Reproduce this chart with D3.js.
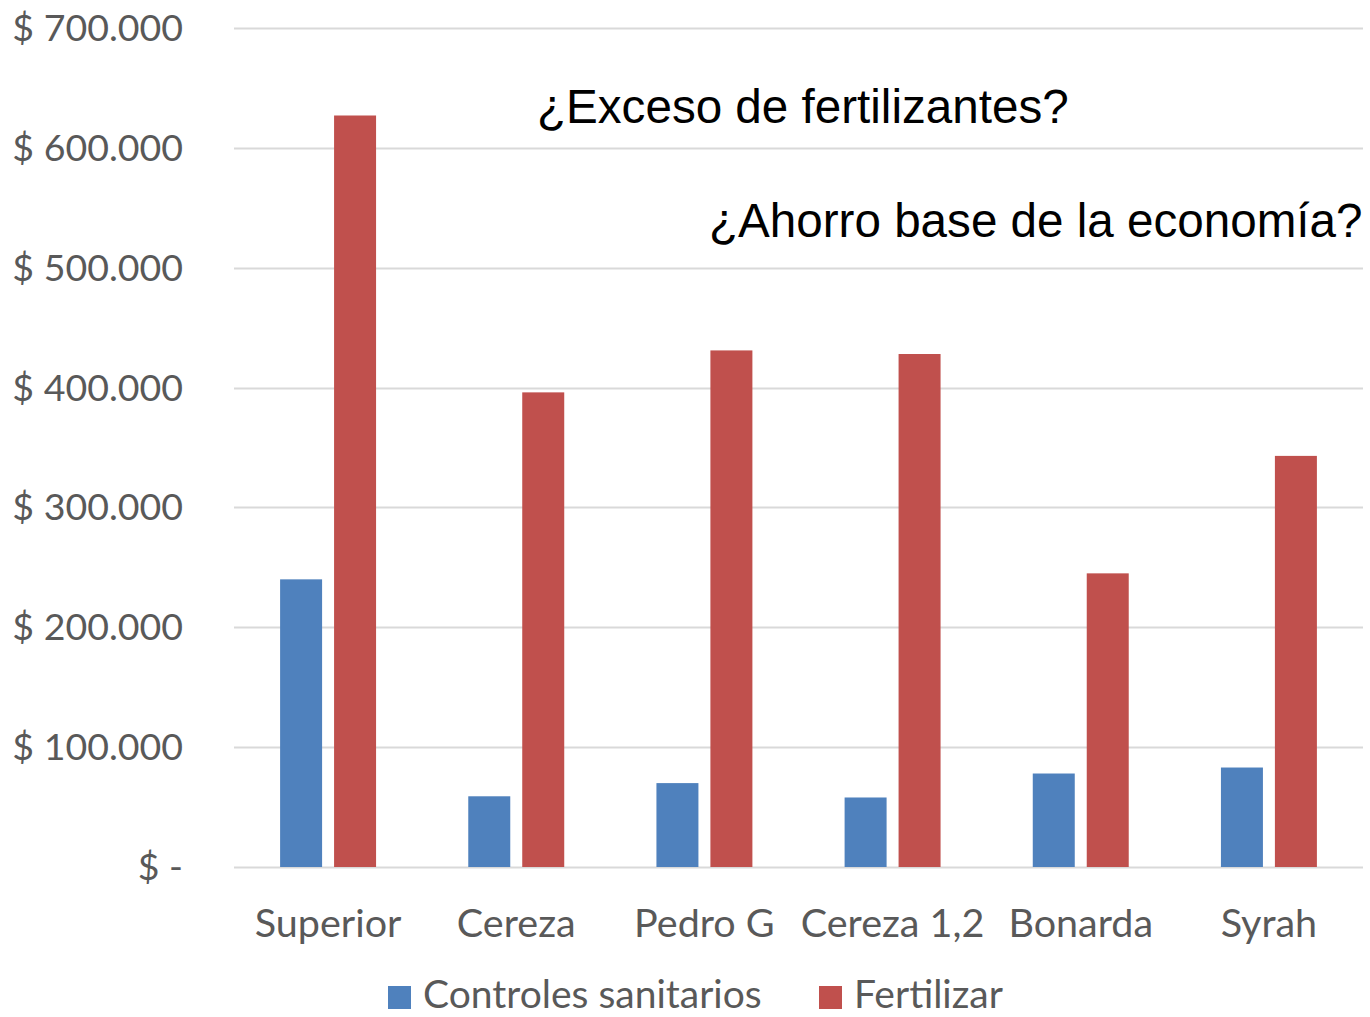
<!DOCTYPE html>
<html>
<head>
<meta charset="utf-8">
<script src="https://cdn.jsdelivr.net/npm/d3@7"></script>
<style>
  body { margin: 0; background: #fff; }
  svg text { font-family: Lato, "Open Sans", sans-serif; fill: #595959; }
</style>
</head>
<body>
<svg id="chart"></svg>
<script>
// data
let categories = ["Superior", "Cereza", "Pedro G", "Cereza 1,2", "Bonarda", "Syrah"];
let seriesNames = ["Controles sanitarios", "Fertilizar"];
let controles = [240000, 59000, 70000, 58000, 78000, 83000];
let fertilizar = [627000, 396000, 431000, 428000, 245000, 343000];
let yTicks = [0, 100000, 200000, 300000, 400000, 500000, 600000, 700000];
let notes = ["¿Exceso de fertilizantes?", "¿Ahorro base de la economía?"];

let width = 1370;
let height = 1017;
let margin = { top: 28, right: 7, bottom: 150, left: 234 };
let colors = ["#4F81BD", "#C0504D"];

let svg = d3.select("#chart")
  .attr("width", width)
  .attr("height", height);

let x0 = d3.scaleBand()
  .domain(categories)
  .range([margin.left, width - margin.right])
  .paddingInner(0.49)
  .paddingOuter(0.245);

let x1 = d3.scaleBand()
  .domain(seriesNames)
  .range([0, x0.bandwidth()])
  .paddingInner(0.222);

let y = d3.scaleLinear()
  .domain([0, 700000])
  .range([height - margin.bottom, margin.top]);

let fmt = v => v === 0 ? "$ -" : "$ " + d3.format(",")(v).replace(/,/g, ".");

// gridlines
svg.append("g")
  .selectAll("line")
  .data(yTicks)
  .enter()
  .append("line")
    .attr("x1", margin.left)
    .attr("x2", width - margin.right)
    .attr("y1", d => Math.round(y(d)) + 0.5)
    .attr("y2", d => Math.round(y(d)) + 0.5)
    .attr("stroke", "#D9D9D9")
    .attr("stroke-width", 2);

// y labels
svg.append("g")
  .selectAll("text")
  .data(yTicks)
  .enter()
  .append("text")
    .attr("x", 183)
    .attr("y", d => y(d) + 13)
    .attr("text-anchor", "end")
    .attr("font-size", 37.5)
    .text(fmt);

let rows = categories.map((c, i) => ({ cat: c, values: [controles[i], fertilizar[i]] }));

let groups = svg.append("g")
  .selectAll("g")
  .data(rows)
  .enter()
  .append("g")
    .attr("transform", d => `translate(${x0(d.cat)},0)`);

groups.selectAll("rect")
  .data(d => d.values.map((v, j) => ({ name: seriesNames[j], value: v, color: colors[j] })))
  .enter()
  .append("rect")
    .attr("x", d => x1(d.name))
    .attr("y", d => y(d.value))
    .attr("width", x1.bandwidth())
    .attr("height", d => y(0) - y(d.value))
    .attr("fill", d => d.color);

// category labels
svg.append("g")
  .selectAll("text")
  .data(categories)
  .enter()
  .append("text")
    .attr("x", d => x0(d) + x0.bandwidth() / 2)
    .attr("y", 937)
    .attr("text-anchor", "middle")
    .attr("font-size", 39.5)
    .text(d => d);

// legend
let legendX = [388, 819];
let legend = svg.append("g")
  .selectAll("g")
  .data(seriesNames)
  .enter()
  .append("g")
    .attr("transform", (d, i) => `translate(${legendX[i]},986)`);

legend.append("rect")
  .attr("width", 23)
  .attr("height", 23)
  .attr("fill", (d, i) => colors[i]);

legend.append("text")
  .attr("x", 35)
  .attr("y", 22)
  .attr("font-size", 39)
  .text(d => d);

// annotations
svg.append("text")
  .attr("x", 537)
  .attr("y", 123)
  .attr("font-size", 47.6)
  .style("font-family", "'Liberation Sans', Arial, sans-serif")
  .style("fill", "#000")
  .text(notes[0]);

svg.append("text")
  .attr("x", 709)
  .attr("y", 237)
  .attr("font-size", 47.6)
  .style("font-family", "'Liberation Sans', Arial, sans-serif")
  .style("fill", "#000")
  .text(notes[1]);
</script>
</body>
</html>
